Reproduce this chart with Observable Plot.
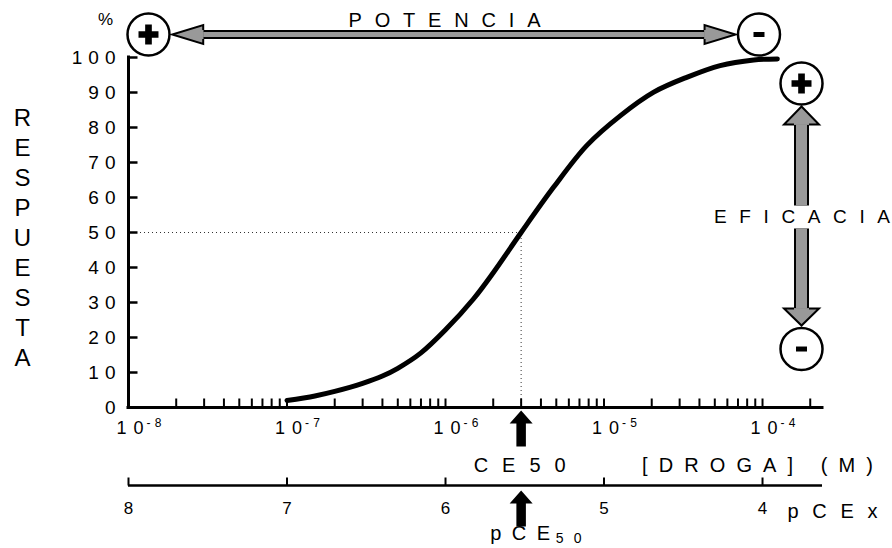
<!DOCTYPE html>
<html>
<head>
<meta charset="utf-8">
<script src="https://cdn.jsdelivr.net/npm/d3@7"></script>
<script src="https://cdn.jsdelivr.net/npm/@observablehq/plot@0.6"></script>
<style>
  html, body { margin: 0; padding: 0; background: #fff; }
  g[aria-description="sp6"] text { letter-spacing: 6px; }
</style>
</head>
<body>
<div id="chart"></div>
<script>
// ---- data ----
const yTicks = [0, 10, 20, 30, 40, 50, 60, 70, 80, 90, 100];
const decades = [-8, -7, -6, -5, -4];
const expLabels = ["-8", "-7", "-6", "-5", "-4"];
const minorMult = [1, 2, 3, 4, 5, 6, 7, 8, 9];
const extraTicks = [1e-4, 2e-4];
const pceTicks = [8, 7, 6, 5, 4];

// dose-response curve: concentration (M) and response (%)
const conc = [1e-7, 1.5e-7, 2e-7, 3e-7, 4e-7, 5e-7, 7e-7, 1e-6, 1.5e-6, 2e-6, 3e-6, 4.8e-6, 7.8e-6, 1.27e-5, 2.06e-5, 3.35e-5, 5.4e-5, 8.8e-5, 1.24e-4];
const resp = [2.0, 3.3, 4.6, 6.9, 9.0, 11.2, 15.6, 22.2, 31, 38.5, 50, 62.9, 74.9, 83.4, 90.1, 94.4, 97.7, 99.3, 99.6];
const EC50 = 3e-6;

// annotation anchors (data units)
const topY = 106.57;
const potX = [1.887e-8, 6.76e-5];
const eficX = 1.762e-4;
const eficTips = [86.0, 23.43];
const eficGap = [57.71, 51.14];
const eficTextY = 54.57;
const circles = [
  {x: 1.337e-8, y: 106.57, s: "+"},
  {x: 9.5e-5, y: 106.57, s: "-"},
  {x: 1.762e-4, y: 92.57, s: "+"},
  {x: 1.762e-4, y: 16.71, s: "-"}
];

// ---- derived ----
const xTicks = decades.slice(0, 4).flatMap(d => minorMult.map(m => m * 10 ** d)).concat(extraTicks);
const curve = conc.map((c, i) => ({c, r: resp[i]}));

// custom symbols
const tickUp = len => ({draw(c) { c.moveTo(0, 0); c.lineTo(0, -len); }});
const tickRight = {draw(c) { c.moveTo(0, 0); c.lineTo(9, 0); }};
const head = (L, W, s) => ({draw(c) { c.moveTo(-s, L); c.lineTo(-W, L); c.lineTo(0, 0); c.lineTo(W, L); c.lineTo(s, L); }});
const minusSym = {draw(c) { c.rect(-5.5, -2.5, 11, 5); }};
const blockUp = {draw(c) {
  const H = 13, W = 11.5, s = 4.75, T = 36;
  c.moveTo(0, 0); c.lineTo(W, H); c.lineTo(s, H); c.lineTo(s, T);
  c.lineTo(-s, T); c.lineTo(-s, H); c.lineTo(-W, H); c.closePath();
}};

const gray = "#999999";
const dotted = {stroke: "#333", strokeWidth: 1, strokeDasharray: "1,3"};

const chart = Plot.plot({
  width: 892,
  height: 548,
  marginLeft: 128,
  marginRight: 70,
  marginTop: 57,
  marginBottom: 141,
  x: {type: "log", domain: [1e-8, 2.39e-4], axis: null},
  y: {domain: [0, 100], axis: null},
  style: {fontFamily: "'Liberation Sans', Arial, sans-serif", background: "white", color: "black", overflow: "visible"},
  marks: [
    // dotted guides
    Plot.ruleY([50], {x1: 1e-8, x2: EC50, ...dotted}),
    Plot.ruleX([EC50], {y1: 0, y2: 50, ...dotted}),
    // main axes
    Plot.ruleY([0], {stroke: "black", strokeWidth: 3, strokeLinecap: "square"}),
    Plot.ruleX([1e-8], {stroke: "black", strokeWidth: 3, strokeLinecap: "square"}),
    Plot.dot(xTicks, {x: d => d, y: 0, symbol: tickUp(9), stroke: "black", strokeWidth: 2, fill: "none"}),
    Plot.dot(yTicks, {x: 1e-8, y: d => d, symbol: tickRight, stroke: "black", strokeWidth: 2.5, fill: "none"}),
    // pCEx axis
    Plot.ruleY([0], {dy: 78, stroke: "black", strokeWidth: 2.5}),
    Plot.dot(pceTicks, {x: d => 10 ** -d, y: 0, dy: 78, symbol: tickUp(8), stroke: "black", strokeWidth: 2, fill: "none"}),
    Plot.text(pceTicks, {x: d => 10 ** -d, y: 0, dy: 101, text: d => String(d), fontSize: 17}),
    // curve
    Plot.line(curve, {x: "c", y: "r", stroke: "black", strokeWidth: 5, curve: "catmull-rom"}),
    // POTENCIA arrow
    Plot.arrow([0], {x1: potX[0], x2: potX[1], y1: topY, y2: topY, insetStart: 31, insetEnd: 31, headLength: 0, stroke: "black", strokeWidth: 9, strokeLinecap: "butt"}),
    Plot.arrow([0], {x1: potX[0], x2: potX[1], y1: topY, y2: topY, insetStart: 31, insetEnd: 31, headLength: 0, stroke: gray, strokeWidth: 5, strokeLinecap: "butt"}),
    Plot.dot([potX[0]], {x: d => d, y: topY, symbol: head(31, 9.5, 4.5), rotate: -90, fill: gray, stroke: "black", strokeWidth: 2}),
    Plot.dot([potX[1]], {x: d => d, y: topY, symbol: head(31, 9.5, 4.5), rotate: 90, fill: gray, stroke: "black", strokeWidth: 2}),
    // EFICACIA arrow (two shaft pieces around the label)
    Plot.arrow([0], {x1: eficX, x2: eficX, y1: eficTips[0], y2: eficGap[0], insetStart: 18, insetEnd: 0, headLength: 0, stroke: "black", strokeWidth: 15, strokeLinecap: "butt"}),
    Plot.arrow([0], {x1: eficX, x2: eficX, y1: eficGap[1], y2: eficTips[1], insetStart: 0, insetEnd: 17, headLength: 0, stroke: "black", strokeWidth: 15, strokeLinecap: "butt"}),
    Plot.arrow([0], {x1: eficX, x2: eficX, y1: eficTips[0], y2: eficGap[0], insetStart: 18, insetEnd: 0, headLength: 0, stroke: gray, strokeWidth: 11, strokeLinecap: "butt"}),
    Plot.arrow([0], {x1: eficX, x2: eficX, y1: eficGap[1], y2: eficTips[1], insetStart: 0, insetEnd: 17, headLength: 0, stroke: gray, strokeWidth: 11, strokeLinecap: "butt"}),
    Plot.dot([eficTips[0]], {x: eficX, y: d => d, symbol: head(18, 17.5, 7.5), rotate: 0, fill: gray, stroke: "black", strokeWidth: 2}),
    Plot.dot([eficTips[1]], {x: eficX, y: d => d, symbol: head(17, 17.5, 7.5), rotate: 180, fill: gray, stroke: "black", strokeWidth: 2}),
    // circles with signs
    Plot.dot(circles, {x: "x", y: "y", r: 21, fill: "white", stroke: "black", strokeWidth: 2.5}),
    Plot.dot(circles.filter(d => d.s === "+"), {x: "x", y: "y", symbol: "cross", r: 8.4, fill: "black", stroke: "none"}),
    Plot.dot(circles.filter(d => d.s === "-"), {x: "x", y: "y", symbol: minusSym, fill: "black", stroke: "none"}),
    // labels
    Plot.text(["%"], {x: 1e-8, y: 100, dx: -23, dy: -38, fontSize: 17}),
    Plot.text(["POTENCIA"], {x: 1e-6, y: topY, dx: -1, dy: -14, fontSize: 20, ariaDescription: "len:192"}),
    Plot.text(["EFICACIA"], {x: eficX, y: eficTextY, dx: 0.5, fontSize: 19, ariaDescription: "len:176"}),
    Plot.text(["R\nE\nS\nP\nU\nE\nS\nT\nA"], {frameAnchor: "left", textAnchor: "middle", dx: -106, dy: 4, fontSize: 24, lineHeight: 1.2525}),
    Plot.text(yTicks, {frameAnchor: "left", y: d => d, text: d => String(d), textAnchor: "end", dx: -7, fontSize: 19, ariaDescription: "sp6"}),
    Plot.text(decades, {x: d => 10 ** d, y: 0, dx: 1.5, dy: 21, text: () => "10", fontSize: 18, ariaDescription: "len:27"}),
    Plot.text(decades, {x: d => 10 ** d, y: 0, dx: 18, dy: 16, text: (d, i) => expLabels[i], textAnchor: "start", fontSize: 12, ariaDescription: "len:15"}),
    Plot.text(["CE50"], {x: EC50, y: 0, dx: -1.5, dy: 58, fontSize: 20, ariaDescription: "len:92"}),
    Plot.text(["[DROGA] (M)"], {x: 1e-5, y: 0, dx: 38, dy: 58, textAnchor: "start", fontSize: 20, ariaDescription: "len:231"}),
    Plot.text(["pCEx"], {x: 1e-4, y: 0, dx: 25, dy: 104.5, textAnchor: "start", fontSize: 20, ariaDescription: "len:90"}),
    Plot.text(["pCE"], {x: EC50, y: 0, dx: -31, dy: 126.5, textAnchor: "start", fontSize: 20, ariaDescription: "len:60"}),
    Plot.text(["50"], {x: EC50, y: 0, dx: 34.5, dy: 131, textAnchor: "start", fontSize: 14, ariaDescription: "len:26"}),
    // CE50 pointers
    Plot.dot([EC50], {x: d => d, y: 0, dy: 3, symbol: blockUp, fill: "black", stroke: "none"}),
    Plot.dot([EC50], {x: d => d, y: 0, dy: 83, symbol: blockUp, fill: "black", stroke: "none"})
  ]
});

// spread letter-spaced labels over their measured widths
d3.select(chart).selectAll("g[aria-description^='len:']").each(function () {
  const L = this.getAttribute("aria-description").slice(4);
  d3.select(this).selectAll("text").attr("textLength", L).attr("lengthAdjust", "spacing");
});
document.getElementById("chart").appendChild(chart);
</script>
</body>
</html>
